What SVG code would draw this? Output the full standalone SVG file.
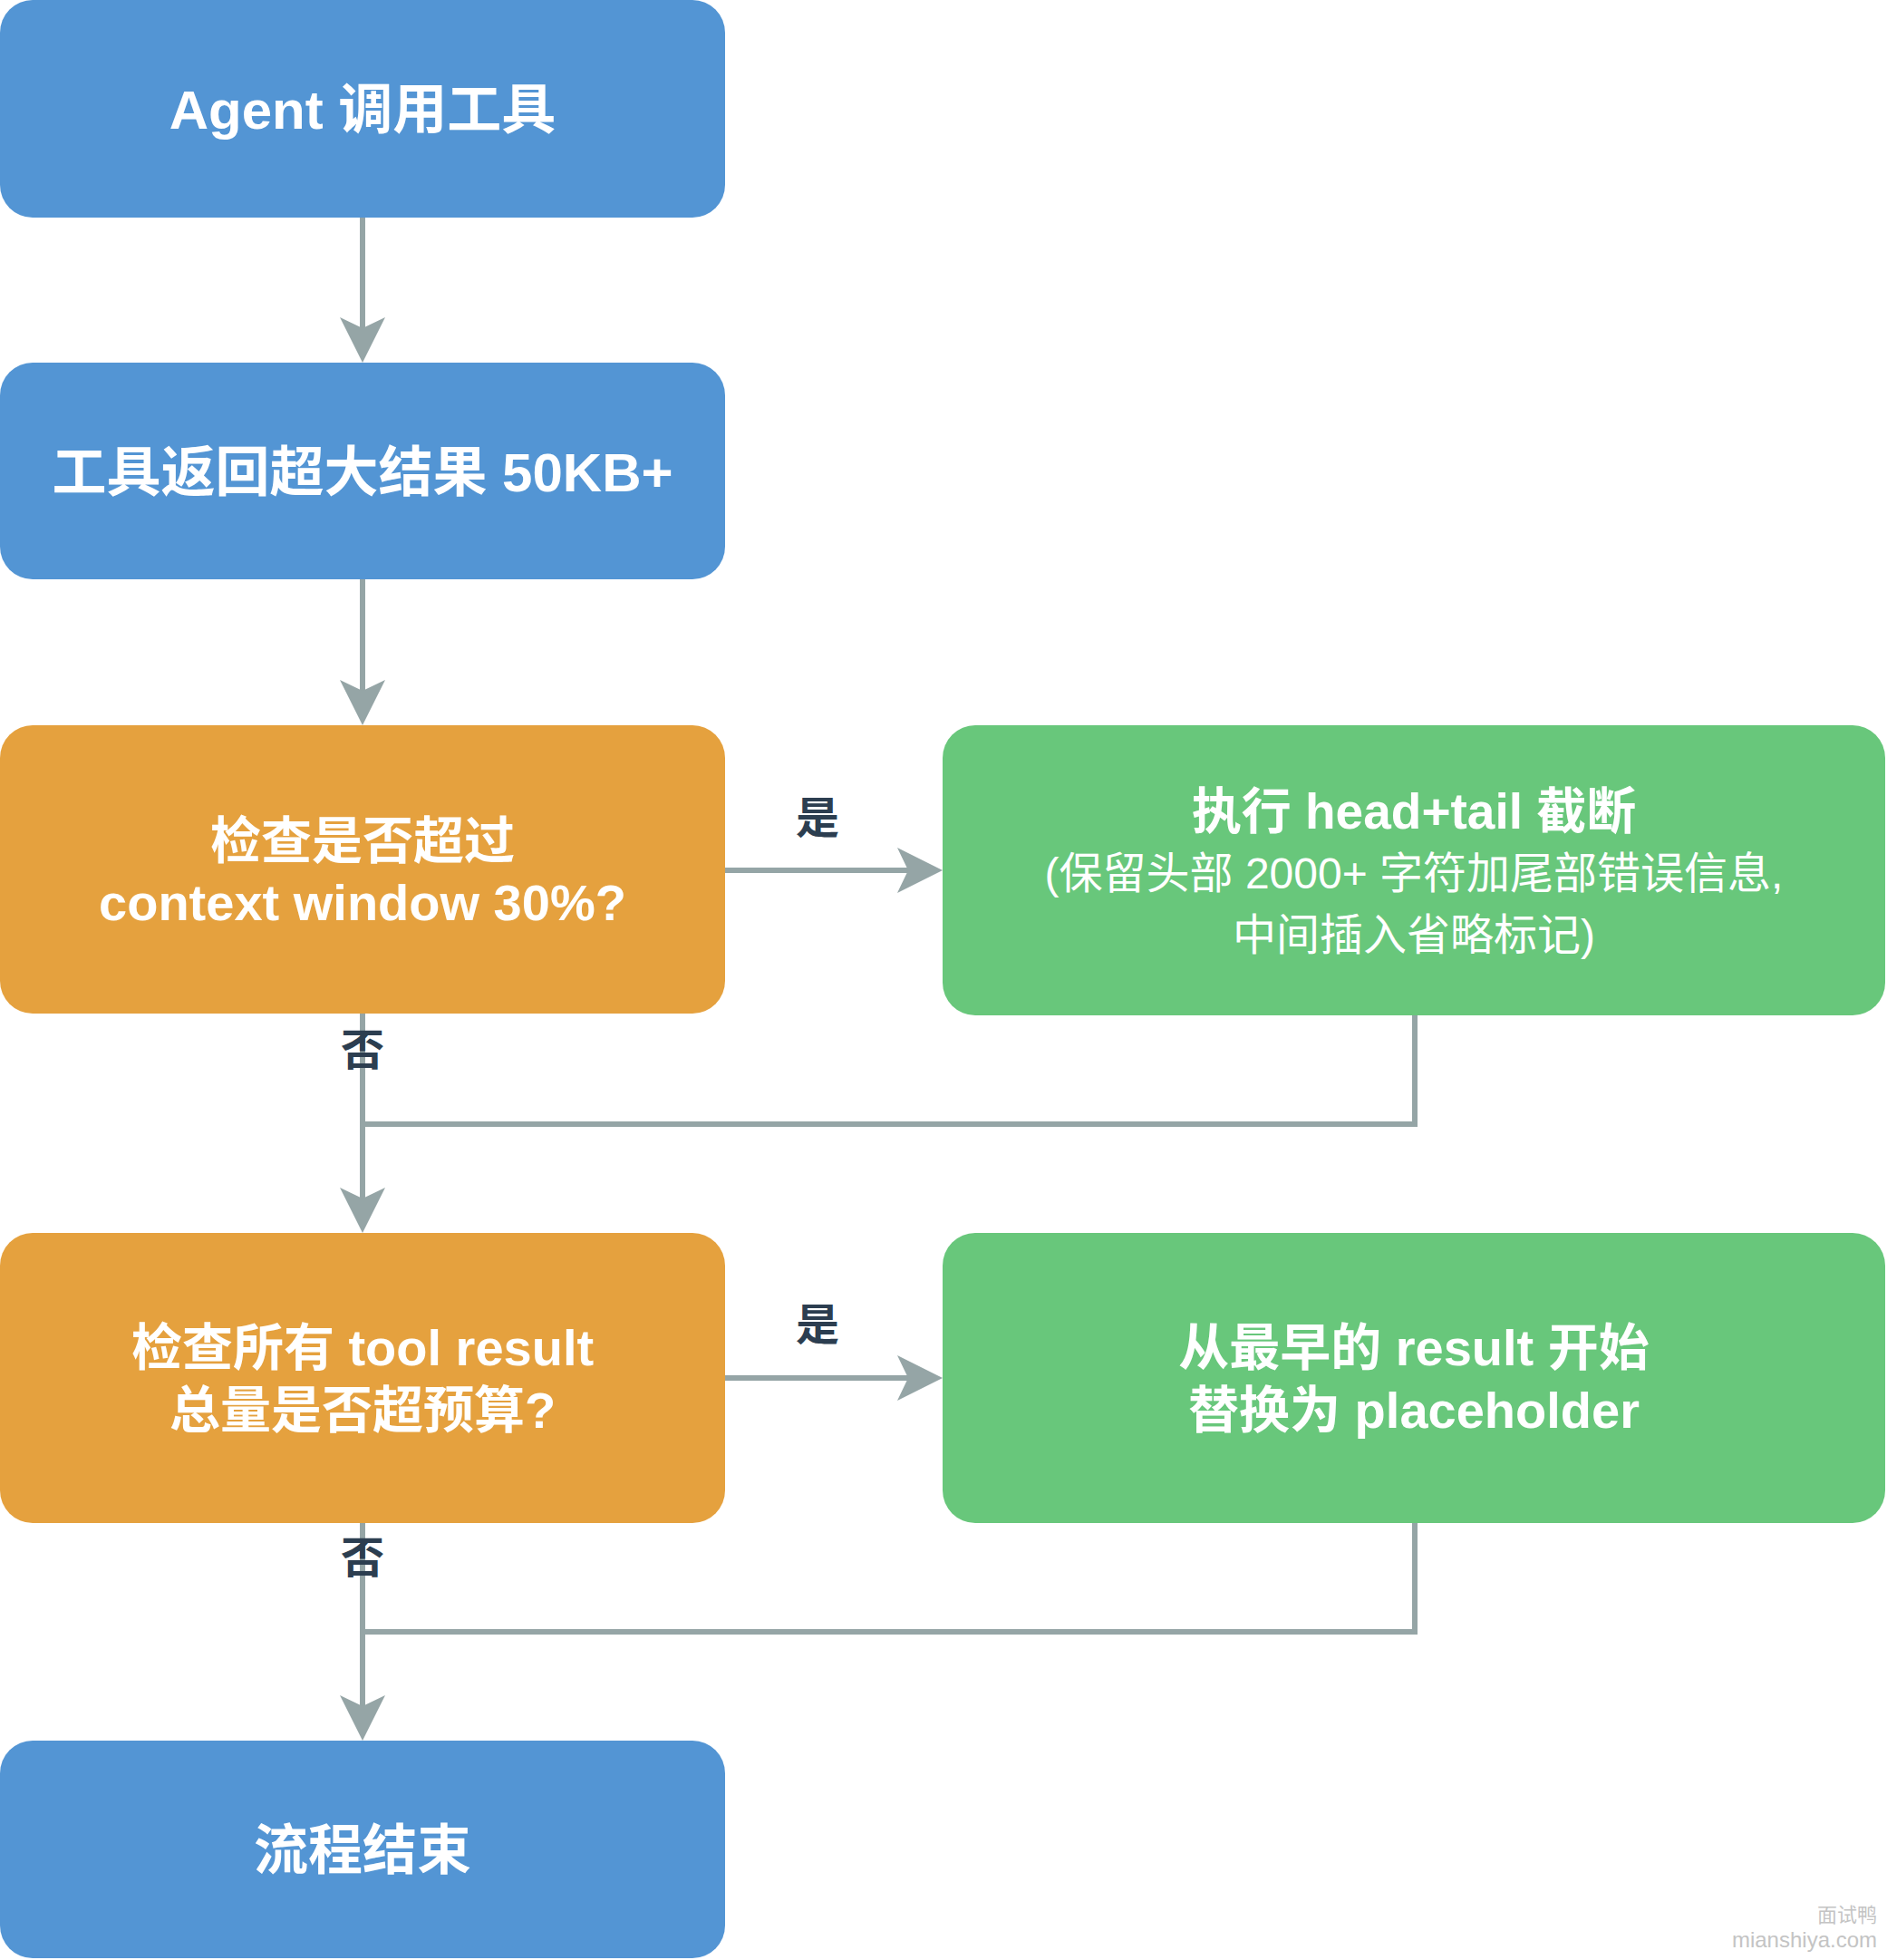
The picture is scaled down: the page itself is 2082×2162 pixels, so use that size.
<svg xmlns="http://www.w3.org/2000/svg" width="2082" height="2162" viewBox="0 0 2082 2162">
<style>
.blue{fill:#5395d4}
.orange{fill:#e5a13e}
.green{fill:#68c77b}
.t{font-family:"Liberation Sans","Noto Sans CJK SC",sans-serif;fill:#ffffff;text-anchor:middle;dominant-baseline:central}
.b{font-weight:bold}
.n{font-weight:normal}
.lbl{font-family:"Liberation Sans","Noto Sans CJK SC",sans-serif;fill:#2c3e50;font-weight:bold;font-size:48px;text-anchor:middle;dominant-baseline:central}
.edge{fill:none;stroke:#95a5a6;stroke-width:6}
.wm{font-family:"Liberation Sans","Noto Sans CJK SC",sans-serif;fill:#c4c4c4;text-anchor:end}
</style>
<defs>
<marker id="arr" viewBox="0 0 50 50" refX="12" refY="25" markerWidth="50" markerHeight="50" markerUnits="userSpaceOnUse" orient="auto">
<path d="M0,0 L50,25 L0,50 L12,25 Z" fill="#95a5a6"/>
</marker>
</defs>
<rect width="2082" height="2162" fill="#ffffff"/>
<g id="connectors">
<path class="edge" d="M400,240 L400,362" marker-end="url(#arr)"/>
<path class="edge" d="M400,639 L400,762" marker-end="url(#arr)"/>
<path class="edge" d="M800,960 L1002,960" marker-end="url(#arr)"/>
<path class="edge" d="M400,1118 L400,1322" marker-end="url(#arr)"/>
<path class="edge" d="M1561,1120 L1561,1240 L400,1240"/>
<path class="edge" d="M800,1520 L1002,1520" marker-end="url(#arr)"/>
<path class="edge" d="M400,1680 L400,1882" marker-end="url(#arr)"/>
<path class="edge" d="M1561,1680 L1561,1800 L400,1800"/>
</g>
<g id="labels">
<text class="lbl" x="902" y="902">是</text>
<text class="lbl" x="400" y="1158">否</text>
<text class="lbl" x="902" y="1461">是</text>
<text class="lbl" x="400" y="1718">否</text>
</g>
<g id="n1">
<rect class="blue" x="0" y="0" width="800" height="240" rx="36"/>
<text class="t b" x="400" y="121" font-size="60">Agent 调用工具</text>
</g>
<g id="n2">
<rect class="blue" x="0" y="400" width="800" height="239" rx="36"/>
<text class="t b" x="400" y="521" font-size="60">工具返回超大结果 50KB+</text>
</g>
<g id="d1">
<rect class="orange" x="0" y="800" width="800" height="318" rx="36"/>
<text class="t b" x="400" y="927" font-size="56">检查是否超过</text>
<text class="t b" x="400" y="995" font-size="56">context window 30%?</text>
</g>
<g id="g1">
<rect class="green" x="1040" y="800" width="1040" height="320" rx="36"/>
<text class="t b" x="1560" y="895" font-size="55">执行 head+tail 截断</text>
<text class="t n" x="1560" y="963" font-size="48">(保留头部 2000+ 字符加尾部错误信息,</text>
<text class="t n" x="1560" y="1031" font-size="48">中间插入省略标记)</text>
</g>
<g id="d2">
<rect class="orange" x="0" y="1360" width="800" height="320" rx="36"/>
<text class="t b" x="400" y="1486" font-size="56">检查所有 tool result</text>
<text class="t b" x="400" y="1555" font-size="56">总量是否超预算?</text>
</g>
<g id="g2">
<rect class="green" x="1040" y="1360" width="1040" height="320" rx="36"/>
<text class="t b" x="1560" y="1486" font-size="56">从最早的 result 开始</text>
<text class="t b" x="1560" y="1555" font-size="56">替换为 placeholder</text>
</g>
<g id="end">
<rect class="blue" x="0" y="1920" width="800" height="240" rx="36"/>
<text class="t b" x="400" y="2041" font-size="60">流程结束</text>
</g>
<g id="watermark">
<text class="wm" x="2071" y="2120" font-size="22">面试鸭</text>
<text class="wm" x="2071" y="2148" font-size="24">mianshiya.com</text>
</g>
</svg>
